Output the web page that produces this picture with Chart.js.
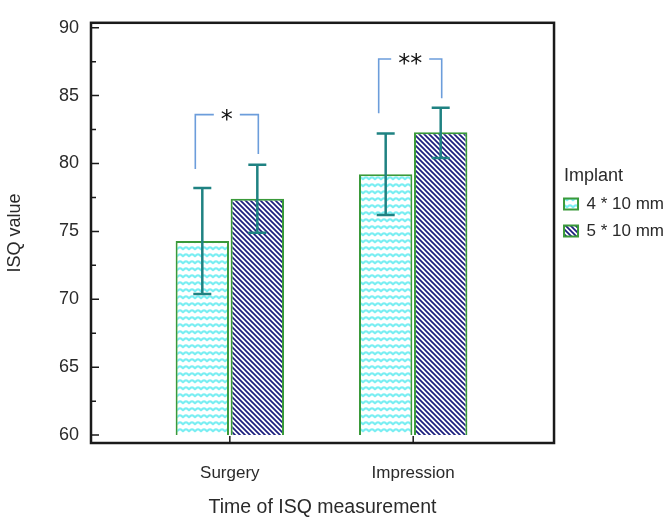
<!DOCTYPE html>
<html>
<head>
<meta charset="utf-8">
<script src="https://cdn.jsdelivr.net/npm/chart.js@4.4.1/dist/chart.umd.min.js"></script>
<style>
  body { margin: 0; background: #fff; }
</style>
</head>
<body>
<canvas id="chart" width="669" height="517"></canvas>
<script>
const categories = ['Surgery', 'Impression'];
const seriesNames = ['4 * 10 mm', '5 * 10 mm'];
const means4 = [74.3, 79.2];
const means5 = [77.4, 82.3];
const err4Low = [70.4, 76.2];
const err4High = [78.2, 82.2];
const err5Low = [74.9, 80.4];
const err5High = [79.9, 84.1];
const yTicks = [60, 65, 70, 75, 80, 85, 90];

// significance brackets (one per category)
const sigLabels = ['*', '**'];
const sigTop = [83.6, 87.7];
const sigLeftEnd = [79.6, 83.7];
const sigRightEnd = [80.7, 84.8];

function wavePattern() {
    const c = document.createElement('canvas');
    c.width = 6; c.height = 7;
    const g = c.getContext('2d');
    g.fillStyle = '#ffffff';
    g.fillRect(0, 0, 6, 7);
    g.strokeStyle = '#7aeef2';
    g.lineWidth = 2.2;
    g.beginPath();
    g.moveTo(0, 2); g.lineTo(3, 4.2); g.lineTo(6, 2);
    g.stroke();
    return g.createPattern(c, 'repeat');
}

function stripePattern() {
    const c = document.createElement('canvas');
    c.width = 5; c.height = 5;
    const g = c.getContext('2d');
    g.fillStyle = '#ffffff';
    g.fillRect(0, 0, 5, 5);
    g.strokeStyle = '#1c1f7e';
    g.lineWidth = 1.7;
    g.beginPath();
    g.moveTo(-1, -1); g.lineTo(6, 6);
    g.moveTo(-1, 4); g.lineTo(1, 6);
    g.moveTo(4, -1); g.lineTo(6, 1);
    g.stroke();
    return g.createPattern(c, 'repeat');
}

const errLows = [err4Low, err5Low];
const errHighs = [err4High, err5High];

const overlay = {
    id: 'overlay',
    afterDatasetsDraw(chart) {
        const ctx = chart.ctx;
        const y = chart.scales.y;
        const x = chart.scales.x;
        const area = chart.chartArea;
        ctx.save();

        // error bars
        ctx.strokeStyle = '#1f8282';
        ctx.lineWidth = 2.5;
        chart.data.datasets.forEach((ds, di) => {
            chart.getDatasetMeta(di).data.forEach((bar, i) => {
                const top = y.getPixelForValue(errHighs[di][i]);
                const bot = y.getPixelForValue(errLows[di][i]);
                ctx.beginPath();
                ctx.moveTo(bar.x, top); ctx.lineTo(bar.x, bot);
                ctx.moveTo(bar.x - 9, top); ctx.lineTo(bar.x + 9, top);
                ctx.moveTo(bar.x - 9, bot); ctx.lineTo(bar.x + 9, bot);
                ctx.stroke();
            });
        });

        // brackets
        const m0 = chart.getDatasetMeta(0).data;
        const m1 = chart.getDatasetMeta(1).data;
        ctx.strokeStyle = '#6c9ddb';
        ctx.lineWidth = 1.6;
        ctx.fillStyle = '#111';
        ctx.font = '24px "DejaVu Sans", sans-serif';
        ctx.textAlign = 'center';
        ctx.textBaseline = 'middle';
        sigLabels.forEach((lab, i) => {
            const xl = m0[i].x - 7;
            const xr = m1[i].x + 1;
            const yt = y.getPixelForValue(sigTop[i]);
            const xm = (xl + xr) / 2;
            const half = ctx.measureText(lab).width / 2 + 7;
            ctx.beginPath();
            ctx.moveTo(xl, y.getPixelForValue(sigLeftEnd[i]));
            ctx.lineTo(xl, yt); ctx.lineTo(xm - half, yt);
            ctx.moveTo(xm + half, yt);
            ctx.lineTo(xr, yt); ctx.lineTo(xr, y.getPixelForValue(sigRightEnd[i]));
            ctx.stroke();
            ctx.fillText(lab, xm, yt + 6);
        });

        // frame and inward ticks
        ctx.strokeStyle = '#1a1a1a';
        ctx.lineWidth = 2.5;
        ctx.strokeRect(area.left, area.top, area.right - area.left, area.bottom - area.top);
        ctx.lineWidth = 1.5;
        ctx.beginPath();
        yTicks.forEach((v, i) => {
            const py = y.getPixelForValue(v);
            ctx.moveTo(area.left, py); ctx.lineTo(area.left + 8, py);
            if (i < yTicks.length - 1) {
                const pm = y.getPixelForValue((v + yTicks[i + 1]) / 2);
                ctx.moveTo(area.left, pm); ctx.lineTo(area.left + 5, pm);
            }
        });
        categories.forEach((c, i) => {
            const px = x.getPixelForValue(i + 1);
            ctx.moveTo(px, area.bottom); ctx.lineTo(px, area.bottom - 7);
        });
        ctx.stroke();
        ctx.restore();
    }
};

const font = '"Liberation Sans", Arial, sans-serif';
Chart.defaults.font.family = font;
Chart.defaults.color = '#2a2a2a';

const ctx = document.getElementById('chart').getContext('2d');
const chart = new Chart(ctx, {
    type: 'bar',
    data: {
        datasets: [
            {
                label: seriesNames[0],
                data: means4.map((v, i) => ({ x: i + 1, y: v })),
                backgroundColor: wavePattern(),
                borderColor: '#3a9a3a',
                borderWidth: 2,
                base: 60
            },
            {
                label: seriesNames[1],
                data: means5.map((v, i) => ({ x: i + 1, y: v })),
                backgroundColor: stripePattern(),
                borderColor: '#3a9a3a',
                borderWidth: 2,
                base: 60
            }
        ]
    },
    options: {
        responsive: false,
        animation: false,
        devicePixelRatio: 1,
        categoryPercentage: 0.6,
        barPercentage: 0.97,
        layout: { padding: { top: 15, right: -5, bottom: 0, left: 0 } },
        plugins: {
            tooltip: { enabled: false },
            legend: {
                position: 'right',
                align: 'start',
                title: {
                    display: true,
                    text: '  Implant',
                    position: 'start',
                    font: { size: 18 },
                    padding: { top: 152, bottom: -3 }
                },
                labels: {
                    boxWidth: 14,
                    boxHeight: 11,
                    padding: 10,
                    font: { size: 17 }
                }
            }
        },
        scales: {
            x: {
                type: 'linear',
                offset: false,
                min: 0.243,
                max: 2.768,
                grid: { display: false, drawTicks: false },
                border: { display: false },
                afterBuildTicks(scale) {
                    scale.ticks = categories.map((c, i) => ({ value: i + 1 }));
                },
                afterFit(scale) { scale.height = 74; },
                ticks: {
                    padding: 20,
                    font: { size: 17 },
                    callback: (v) => categories[v - 1] || ''
                },
                title: {
                    display: true,
                    text: 'Time of ISQ measurement',
                    font: { size: 19.5 },
                    padding: { top: 0, bottom: -2 }
                }
            },
            y: {
                min: 59.42,
                max: 90.36,
                grid: { display: false, drawTicks: false },
                border: { display: false },
                afterBuildTicks(scale) {
                    scale.ticks = yTicks.map(v => ({ value: v }));
                },
                afterFit(scale) { scale.width = 91; },
                ticks: {
                    padding: 12,
                    font: { size: 18 }
                },
                title: {
                    display: true,
                    text: 'ISQ value',
                    font: { size: 18 },
                    padding: { top: 4, bottom: 0 }
                }
            }
        }
    },
    plugins: [overlay]
});
</script>
</body>
</html>
